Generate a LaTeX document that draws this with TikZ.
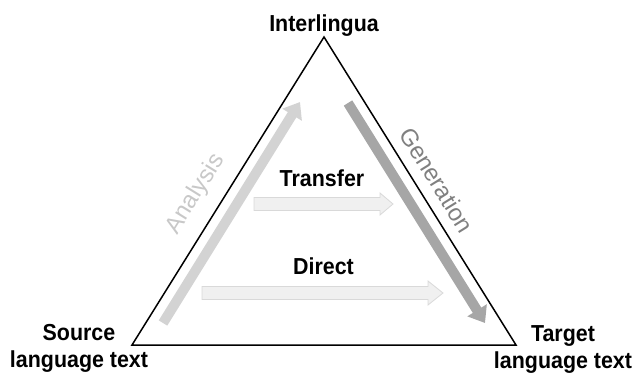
\documentclass[tikz,border=0pt]{standalone}
\usepackage{fontspec}
\setmainfont{Liberation Sans}
\usetikzlibrary{arrows.meta,calc}
\definecolor{anaarrow}{HTML}{D3D3D3}
\definecolor{anatext}{HTML}{C8C8C8}
\definecolor{genarrow}{HTML}{A6A6A6}
\definecolor{gentext}{HTML}{808080}
\definecolor{blkfill}{HTML}{F0F0F0}
\definecolor{blkdraw}{HTML}{D9D9D9}
\begin{document}
\begin{tikzpicture}[x=1bp,y=-1bp,
  lbl/.style={font=\fontsize{21.5}{25}\selectfont\bfseries, inner sep=0pt, align=center, yscale=1.08},
  sidetxt/.style={font=\fontsize{24}{28}\selectfont, inner sep=0pt},
  tri/.style={line width=1.5bp, line join=miter},
  thick arrow/.style={line width=10bp, -{Triangle[length=15bp,width=22bp]}},
  blockarrow/.style={fill=blkfill, draw=blkdraw, line width=0.8bp, line join=miter}]
\useasboundingbox (0,0) rectangle (632,374);
% triangle
\coordinate (top) at (324,37);
\coordinate (bl) at (132,345);
\coordinate (br) at (516,345);
\draw[tri] (top) -- (bl) -- (br) -- cycle;
% corner labels
\node[lbl, anchor=base] (inter) at (324,31.5) {Interlingua};
\node[lbl] (source) at (79,348.7) {Source\\language text};
\node[lbl] (target) at (563,349.5) {Target\\language text};
% analysis / generation
\coordinate (atail) at (163,323);
\coordinate (atip) at (300,102);
\draw[thick arrow, anaarrow] (atail) -- (atip);
\node[sidetxt, text=anatext, rotate=58.2] (analysis) at (195.7,194) {Analysis};
\coordinate (gtail) at (348,103);
\coordinate (gtip) at (485,323);
\draw[thick arrow, genarrow] (gtail) -- (gtip);
\node[sidetxt, text=gentext, rotate=-58.2] (generation) at (437,180) {Generation};
% transfer
\node[lbl, anchor=base] (transfer) at (322,186.7) {Transfer};
\coordinate (ttail) at (254,204);
\coordinate (ttip) at (393,204);
\draw[blockarrow] ($(ttail)+(0,-6.5)$) -- ($(ttip)+(-13,-6.5)$) -- ($(ttip)+(-13,-11)$) -- (ttip)
  -- ($(ttip)+(-13,11)$) -- ($(ttip)+(-13,6.5)$) -- ($(ttail)+(0,6.5)$) -- cycle;
% direct
\node[lbl, anchor=base] (direct) at (323.5,274) {Direct};
\coordinate (dtail) at (202,293);
\coordinate (dtip) at (443,293);
\draw[blockarrow] ($(dtail)+(0,-6.5)$) -- ($(dtip)+(-15,-6.5)$) -- ($(dtip)+(-15,-12)$) -- (dtip)
  -- ($(dtip)+(-15,12)$) -- ($(dtip)+(-15,6.5)$) -- ($(dtail)+(0,6.5)$) -- cycle;
\end{tikzpicture}
\end{document}
